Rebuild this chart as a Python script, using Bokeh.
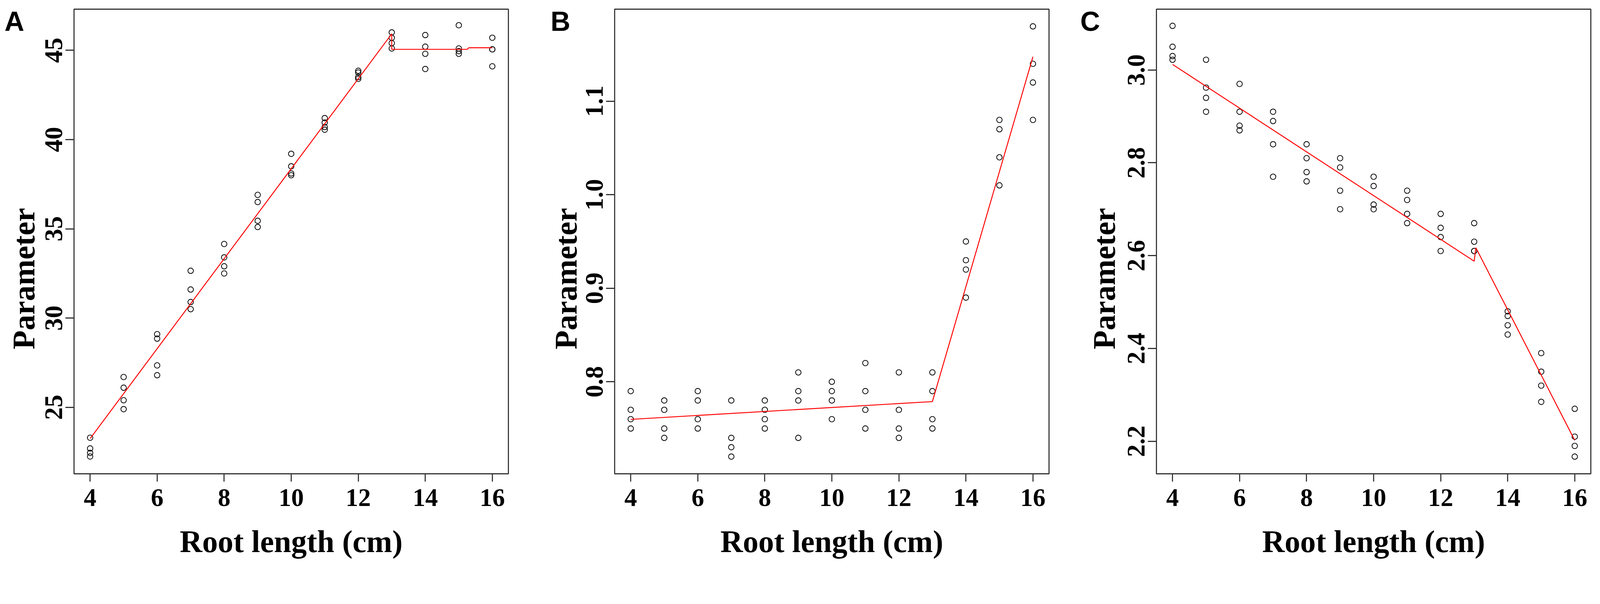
import math
from bokeh.plotting import figure
from bokeh.layouts import row
from bokeh.models import Range1d, Label, FixedTicker, PrintfTickFormatter
from bokeh.embed import file_html
from bokeh.resources import INLINE

# ---------------- data ----------------
root_lengths = [4, 5, 6, 7, 8, 9, 10, 11, 12, 13, 14, 15, 16]
x_ticks = [4, 6, 8, 10, 12, 14, 16]

a_values = [
    [23.3, 22.7, 22.45, 22.25],
    [26.7, 26.1, 25.4, 24.9],
    [29.1, 28.85, 27.35, 26.8],
    [32.65, 31.6, 30.9, 30.5],
    [34.15, 33.4, 32.9, 32.5],
    [36.9, 36.5, 35.45, 35.1],
    [39.2, 38.5, 38.1, 38.0],
    [41.2, 40.95, 40.7, 40.55],
    [43.85, 43.75, 43.5, 43.4],
    [46.0, 45.7, 45.4, 45.1],
    [45.85, 45.2, 44.8, 43.95],
    [46.4, 45.1, 44.95, 44.8],
    [45.7, 45.05, 45.05, 44.1],
]
a_fit_x = [4, 13, 13, 15.25, 15.3, 16]
a_fit_y = [23.25, 45.92, 45.05, 45.05, 45.14, 45.14]
a_yticks = [25, 30, 35, 40, 45]

b_values = [
    [0.79, 0.77, 0.76, 0.75],
    [0.78, 0.77, 0.75, 0.74],
    [0.79, 0.78, 0.76, 0.75],
    [0.78, 0.74, 0.73, 0.72],
    [0.78, 0.77, 0.76, 0.75],
    [0.81, 0.79, 0.78, 0.74],
    [0.80, 0.79, 0.78, 0.76],
    [0.82, 0.79, 0.77, 0.75],
    [0.81, 0.77, 0.75, 0.74],
    [0.81, 0.79, 0.76, 0.75],
    [0.95, 0.93, 0.92, 0.89],
    [1.08, 1.07, 1.04, 1.01],
    [1.18, 1.14, 1.12, 1.08],
]
b_fit_x = [4, 13, 16]
b_fit_y = [0.7598, 0.7788, 1.1475]
b_yticks = [0.8, 0.9, 1.0, 1.1]

c_values = [
    [3.095, 3.05, 3.03, 3.022],
    [3.022, 2.962, 2.94, 2.91],
    [2.97, 2.91, 2.88, 2.87],
    [2.91, 2.89, 2.84, 2.77],
    [2.84, 2.81, 2.78, 2.76],
    [2.81, 2.79, 2.74, 2.70],
    [2.77, 2.75, 2.71, 2.70],
    [2.74, 2.72, 2.69, 2.67],
    [2.69, 2.66, 2.64, 2.61],
    [2.67, 2.63, 2.61, 2.61],
    [2.48, 2.47, 2.45, 2.43],
    [2.39, 2.35, 2.32, 2.285],
    [2.27, 2.21, 2.19, 2.167],
]
c_fit_x = [4, 13, 13.05, 16]
c_fit_y = [3.012, 2.588, 2.617, 2.202]
c_yticks = [2.2, 2.4, 2.6, 2.8, 3.0]

x_title = "Root length (cm)"
y_title = "Parameter"

SERIF = "Liberation Serif"
SANS = "Liberation Sans"
DARK = "#333333"

FRAME_W = 1112
FRAME_H = 1190
X_RANGE = (3.52, 16.48)


def make_panel(letter, values, fit_x, fit_y, yticks, yrange, yfmt,
               border_left, border_right, letter_dx, ytitle_dx):
    x0, x1 = X_RANGE
    y0, y1 = yrange
    p = figure(frame_width=FRAME_W, frame_height=FRAME_H,
               min_border_left=border_left, min_border_right=border_right,
               min_border_top=23, min_border_bottom=245,
               x_range=Range1d(x0, x1), y_range=Range1d(y0, y1),
               output_backend="svg", toolbar_location=None,
               background_fill_color="white", border_fill_color="white")
    p.grid.visible = False
    p.outline_line_color = DARK
    p.outline_line_width = 2.8

    xs, ys = [], []
    for rl, vals in zip(root_lengths, values):
        for v in vals:
            xs.append(rl)
            ys.append(v)
    p.scatter(xs, ys, marker="circle", size=14, fill_color=None,
              line_color="black", line_width=1.9)
    p.line(fit_x, fit_y, line_color="#ff0000", line_width=2.4)

    xa = p.xaxis[0]
    xa.ticker = FixedTicker(ticks=x_ticks)
    xa.axis_line_color = None
    xa.major_tick_line_color = DARK
    xa.major_tick_line_width = 2.8
    xa.major_tick_in = 0
    xa.major_tick_out = 20
    xa.minor_tick_line_color = None
    xa.major_label_text_font = SERIF
    xa.major_label_text_font_style = "bold"
    xa.major_label_text_font_size = "64.5px"
    xa.major_label_text_color = "black"
    xa.major_label_standoff = 19
    xa.axis_label = x_title
    xa.axis_label_text_font = SERIF
    xa.axis_label_text_font_style = "bold"
    xa.axis_label_text_font_size = "79.6px"
    xa.axis_label_text_color = "black"
    xa.axis_label_standoff = 44

    ya = p.yaxis[0]
    ya.ticker = FixedTicker(ticks=yticks)
    ya.formatter = PrintfTickFormatter(format=yfmt)
    ya.axis_line_color = None
    ya.major_tick_line_color = DARK
    ya.major_tick_line_width = 2.8
    ya.major_tick_in = 0
    ya.major_tick_out = 22
    ya.minor_tick_line_color = None
    ya.major_label_text_font = SERIF
    ya.major_label_text_font_style = "bold"
    ya.major_label_text_font_size = "64.5px"
    ya.major_label_text_color = "black"
    ya.major_label_orientation = "vertical"
    ya.major_label_standoff = 8

    ppx = FRAME_W / (x1 - x0)
    ppy = FRAME_H / (y1 - y0)

    # y title: side-panel label (not clipped), placed through the data scales
    ylab = Label(x=x0 + ytitle_dx / ppx, y=y0 + 500 / ppy, text=y_title,
                 angle=math.pi / 2, text_align="center", text_baseline="alphabetic",
                 text_font=SERIF, text_font_style="bold",
                 text_font_size="79.6px", text_color="black")
    p.add_layout(ylab, "below")

    # panel letter at the top-left, outside the frame
    lab = Label(x=x0 + letter_dx / ppx, y=y1 - 31.3 / ppy, text=letter,
                text_align="left", text_baseline="alphabetic",
                text_font=SANS, text_font_style="bold",
                text_font_size="70px", text_color="black")
    p.add_layout(lab, "right")
    return p


pA = make_panel("A", a_values, a_fit_x, a_fit_y, a_yticks, (21.28, 47.30), "%d",
                189, 80, -178, -129)
pB = make_panel("B", b_values, b_fit_x, b_fit_y, b_yticks, (0.7016, 1.1984), "%.1f",
                192, 79, -164, -125)
pC = make_panel("C", c_values, c_fit_x, c_fit_y, c_yticks, (2.130, 3.131), "%.1f",
                196, 22, -195, -134)

layout = row(pA, pB, pC)
open("out.html", "w").write(file_html(layout, INLINE))
